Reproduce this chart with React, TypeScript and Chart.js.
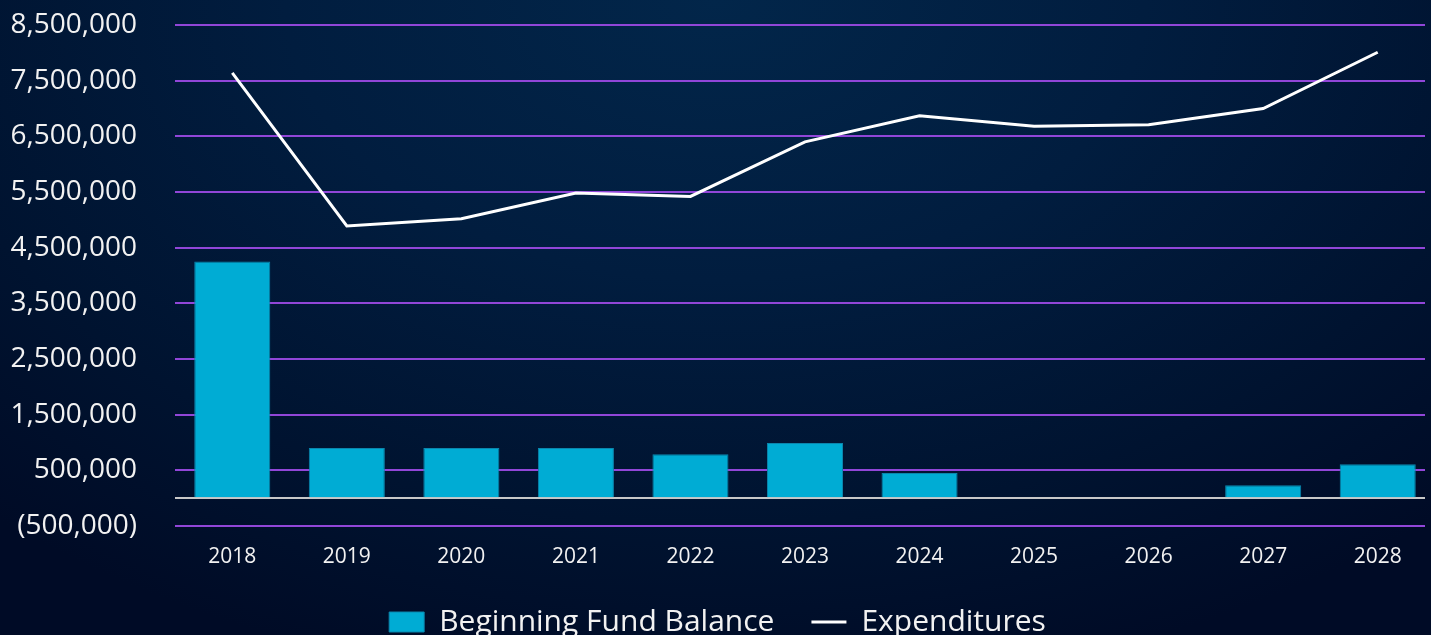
import React, { useEffect, useRef } from "react";
import { Chart, registerables } from "chart.js";

Chart.register(...registerables);

const years = ["2018", "2019", "2020", "2021", "2022", "2023", "2024", "2025", "2026", "2027", "2028"];
const beginningFundBalance = [4250000, 900000, 900000, 900000, 790000, 990000, 450000, 15000, 15000, 230000, 610000];
const expenditures = [7640000, 4890000, 5020000, 5480000, 5420000, 6400000, 6870000, 6680000, 6710000, 7000000, 8010000];
const yMin = -500000;
const yMax = 8500000;
const yStep = 1000000;

const fmt = (v: number) => {
  const s = Math.abs(v).toLocaleString("en-US");
  return v < 0 ? `(${s})` : s;
};

export default function App() {
  const ref = useRef<HTMLCanvasElement | null>(null);

  useEffect(() => {
    document.body.style.margin = "0";
    document.body.style.overflow = "hidden";
    if (!ref.current) return;
    Chart.defaults.font.family = "'Open Sans', sans-serif";
    const chart = new Chart(ref.current, {
      type: "bar",
      data: {
        labels: years,
        datasets: [
          {
            type: "bar",
            label: "Beginning Fund Balance",
            data: beginningFundBalance,
            backgroundColor: "#00acd4",
            borderColor: "#0b86ad",
            borderWidth: 1,
            barPercentage: 0.664,
            categoryPercentage: 1,
            pointStyle: "rect",
            order: 2,
          },
          {
            type: "line",
            label: "Expenditures",
            data: expenditures,
            borderColor: "#ffffff",
            backgroundColor: "#ffffff",
            borderWidth: 3,
            pointRadius: 0,
            tension: 0,
            pointStyle: "line",
            order: 1,
          },
        ],
      },
      options: {
        animation: false,
        responsive: false,
        maintainAspectRatio: false,
        layout: { padding: { top: 25, left: 0, right: 1, bottom: 0 } },
        plugins: {
          tooltip: { enabled: false },
          legend: {
            position: "bottom",
            labels: {
              usePointStyle: true,
              pointStyleWidth: 35,
              boxHeight: 20,
              padding: 37,
              color: "#f2f2f2",
              font: { size: 30 },
              sort: (a: any, b: any) => a.datasetIndex - b.datasetIndex,
            },
          },
        },
        scales: {
          x: {
            grid: { display: false, drawTicks: false },
            border: { display: false },
            ticks: { color: "#f2f2f2", font: { size: 21 }, padding: 18 },
            afterFit: (s: any) => {
              s.height = 44;
            },
          },
          y: {
            min: yMin,
            max: yMax,
            grid: {
              drawTicks: false,
              lineWidth: 2,
              color: (ctx: any) => (ctx.tick && ctx.tick.value === 0 ? "#c8c8c8" : "#9146d8"),
            },
            border: { display: false },
            ticks: {
              stepSize: yStep,
              color: "#f2f2f2",
              font: { size: 28 },
              padding: 38,
              callback: (v: any) => (Number(v) === 0 ? "" : fmt(Number(v))),
            },
            afterBuildTicks: (s: any) => {
              if (!s.ticks.find((t: any) => t.value === 0)) {
                s.ticks.push({ value: 0 });
                s.ticks.sort((a: any, b: any) => a.value - b.value);
              }
            },
            afterFit: (s: any) => {
              s.width = 175;
              s.paddingTop = 0;
              s.paddingBottom = 0;
            },
          },
        },
      },
    });
    return () => chart.destroy();
  }, []);

  return (
    <div
      style={{
        position: "fixed",
        left: 0,
        top: 0,
        width: 1431,
        height: 635,
        overflow: "hidden",
        background:
          "radial-gradient(ellipse 75% 110% at 50% 0%, #02264a 0%, #011d3f 40%, #001330 75%, #000b26 100%)",
      }}
    >
      <div style={{ width: 1425, height: 635, overflow: "hidden" }}>
        <canvas ref={ref} width={1436} height={647} style={{ display: "block", width: 1436, height: 647 }} />
      </div>
    </div>
  );
}
